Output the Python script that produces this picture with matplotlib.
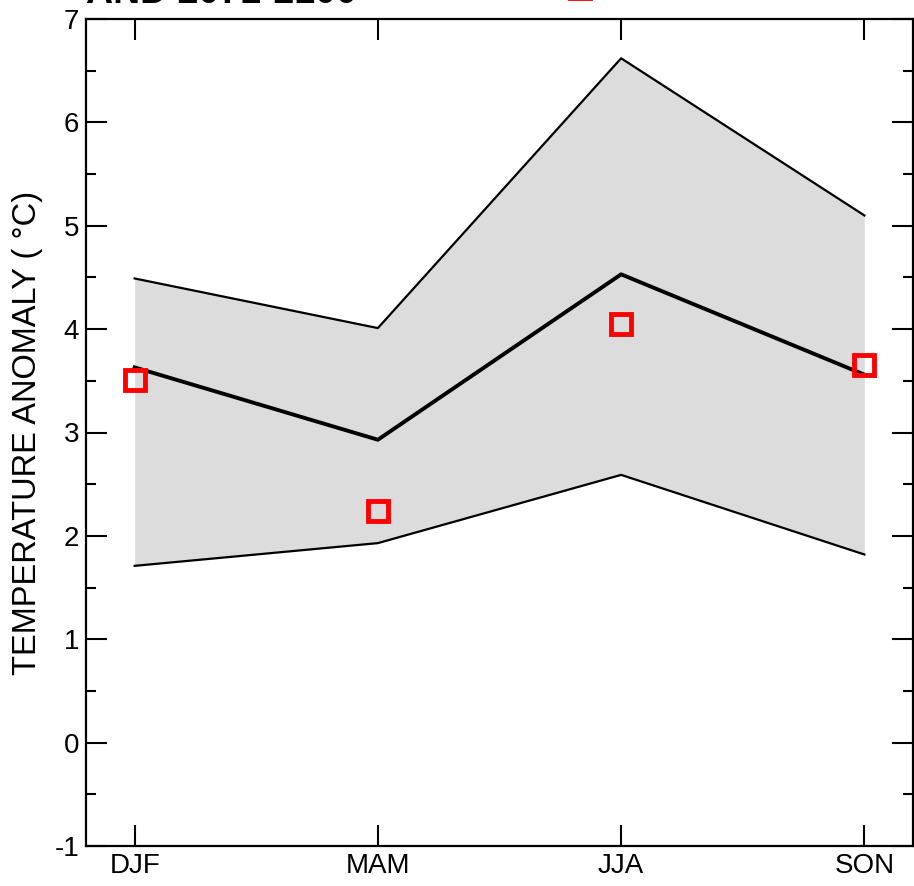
import numpy as np
import matplotlib.pyplot as plt

plt.rcParams['font.family'] = ['Liberation Sans', 'DejaVu Sans']
plt.rcParams['axes.unicode_minus'] = False

seasons = ["DJF", "MAM", "JJA", "SON"]
upper = [4.49, 4.01, 6.62, 5.10]
mean = [3.63, 2.93, 4.53, 3.56]
lower = [1.71, 1.93, 2.59, 1.82]
obs = [3.51, 2.24, 4.05, 3.65]

x = np.arange(len(seasons))

fig = plt.figure(figsize=(9.14, 8.86), dpi=100)
ax = fig.add_axes([86 / 914, 40 / 886, 827 / 914, 827 / 886])

ax.fill_between(x, lower, upper, color="#dcdcdc", lw=0)
ax.plot(x, upper, color="black", lw=1.6)
ax.plot(x, lower, color="black", lw=1.6)
ax.plot(x, mean, color="black", lw=2.8)
ax.plot(x, obs, ls="none", marker="s", ms=15, mfc="none", mec="red", mew=3.5)

ax.set_xlim(-0.2, 3.2)
ax.set_ylim(-1, 7)
ax.set_xticks(x)
ax.set_xticklabels(seasons)
ax.set_yticks(np.arange(-1, 8, 1))
ax.set_yticks(np.arange(-0.5, 7, 1), minor=True)
ax.tick_params(which="both", direction="in", top=True, right=True, width=1.5, labelsize=20)
ax.tick_params(which="major", length=15, pad=5)
ax.tick_params(which="minor", length=7.5)
for s in ax.spines.values():
    s.set_linewidth(1.6)

ax.set_ylabel("TEMPERATURE ANOMALY ( °C)", fontsize=23.5, labelpad=8)

# title and legend sit above the frame and are cut off at the top edge
fig.text(86 / 914, 1 - 3 / 886, "AND 2071-2100", fontsize=27, fontweight="bold", va="baseline")
ax.plot([1.83], [7.30], ls="none", marker="s", ms=15, mfc="none", mec="red", mew=3.5, clip_on=False)

fig.savefig("out.png", dpi=100)
